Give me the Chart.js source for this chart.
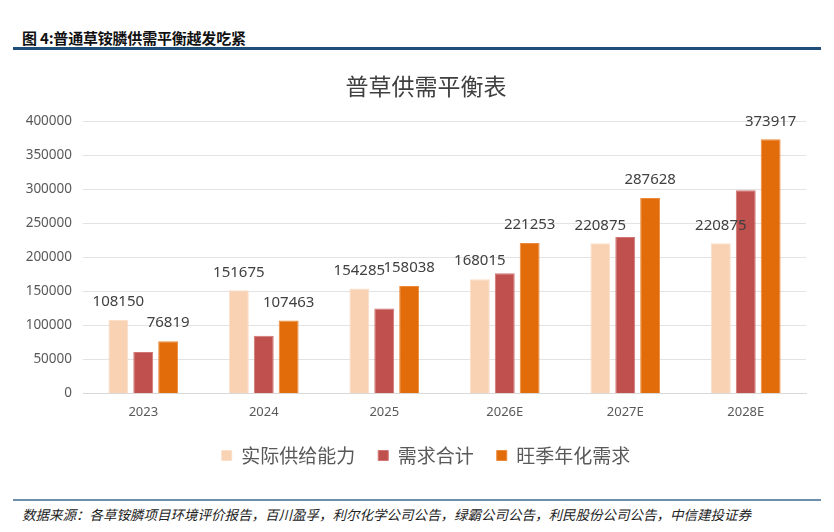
<!DOCTYPE html>
<html>
<head>
<meta charset="utf-8">
<script src="https://cdn.jsdelivr.net/npm/chart.js@4.4.1/dist/chart.umd.min.js"></script>
<style>
  html,body{margin:0;padding:0;background:#fff;width:834px;height:532px;overflow:hidden;}
  #hdr{position:absolute;left:22px;top:27px;font:bold 15px "Noto Sans CJK SC","Noto Sans",sans-serif;color:#111;letter-spacing:-0.2px;}
  #line1{position:absolute;left:13px;top:47px;width:808px;height:3px;background:#1f4e79;}
  #line2{position:absolute;left:13px;top:499px;width:808px;height:2px;background:#6f8fae;}
  #src{position:absolute;left:22px;top:504px;font:italic 13.5px "Noto Sans CJK SC","Noto Sans",sans-serif;color:#222;letter-spacing:0px;}
  #wrap{position:absolute;left:0;top:62px;width:834px;height:430px;}
</style>
</head>
<body>
<div id="hdr">图 4:普通草铵膦供需平衡越发吃紧</div>
<div id="line1"></div>
<div id="wrap"><canvas id="c" width="834" height="430"></canvas></div>
<div id="line2"></div>
<div id="src">数据来源：各草铵膦项目环境评价报告，百川盈孚，利尔化学公司公告，绿霸公司公告，利民股份公司公告，中信建投证券</div>
<script>
const categories = ["2023", "2024", "2025", "2026E", "2027E", "2028E"];
const supply = [108150, 151675, 154285, 168015, 220875, 220875];
const demand = [61000, 85000, 125000, 177000, 230000, 299000];
const peakDemand = [76819, 107463, 158038, 221253, 287628, 373917];
const seriesNames = ["实际供给能力", "需求合计", "旺季年化需求"];
const chartTitle = "普草供需平衡表";

const labelPlugin = {
  id: 'barLabels',
  afterDatasetsDraw(chart) {
    const ctx = chart.ctx;
    ctx.save();
    ctx.font = '15px "Noto Sans", sans-serif';
    ctx.fillStyle = '#404040';
    ctx.textAlign = 'center';
    ctx.textBaseline = 'middle';
    [0, 2].forEach(di => {
      const meta = chart.getDatasetMeta(di);
      meta.data.forEach((el, i) => {
        const v = chart.data.datasets[di].data[i];
        ctx.fillText(String(v), el.x, el.y - 18);
      });
    });
    ctx.restore();
  }
};

// y tick labels drawn from the y scale's own ticks (axis box kept narrow so title/legend centre like the reference)
const yTickPlugin = {
  id: 'yTickLabels',
  afterDraw(chart) {
    const ctx = chart.ctx;
    const y = chart.scales.y;
    ctx.save();
    ctx.font = '13.5px "Noto Sans", sans-serif';
    ctx.fillStyle = '#595959';
    ctx.textAlign = 'right';
    ctx.textBaseline = 'middle';
    y.ticks.forEach(t => {
      ctx.fillText(String(t.value), chart.chartArea.left - 11, y.getPixelForValue(t.value));
    });
    ctx.restore();
  }
};

new Chart(document.getElementById('c'), {
  type: 'bar',
  data: {
    labels: categories,
    datasets: [
      {label: seriesNames[0], data: supply, backgroundColor: '#F9D2B3', borderColor: '#FBE0CB', borderWidth: 1},
      {label: seriesNames[1], data: demand, backgroundColor: '#C0504D', borderColor: '#D27573', borderWidth: 1},
      {label: seriesNames[2], data: peakDemand, backgroundColor: '#E26B0A', borderColor: '#EC8A3B', borderWidth: 1}
    ]
  },
  options: {
    responsive: false,
    animation: false,
    layout: {padding: {left: 46, right: 28, top: 0, bottom: 17}},
    datasets: {bar: {categoryPercentage: 0.62, barPercentage: 0.8}},
    plugins: {
      title: {display: true, text: chartTitle, color: '#404040',
        font: {size: 23, family: '"Noto Sans CJK SC", sans-serif', weight: 'normal'},
        padding: {top: 10, bottom: 22}},
      legend: {position: 'bottom',
        labels: {boxWidth: 10, boxHeight: 10, color: '#595959', padding: 23,
          font: {size: 19, family: '"Noto Sans CJK SC", sans-serif'}}},
      tooltip: {enabled: false}
    },
    scales: {
      x: {
        grid: {display: false},
        border: {color: '#d9d9d9', width: 1},
        ticks: {color: '#595959', font: {size: 13, family: '"Noto Sans", sans-serif'}, padding: 3}
      },
      y: {
        min: 0, max: 400000,
        afterFit(scale) { scale.width = 37; },
        ticks: {display: false, stepSize: 50000},
        grid: {color: '#e3e3e3', drawTicks: false},
        border: {display: false}
      }
    }
  },
  plugins: [labelPlugin, yTickPlugin]
});
</script>
</body>
</html>
